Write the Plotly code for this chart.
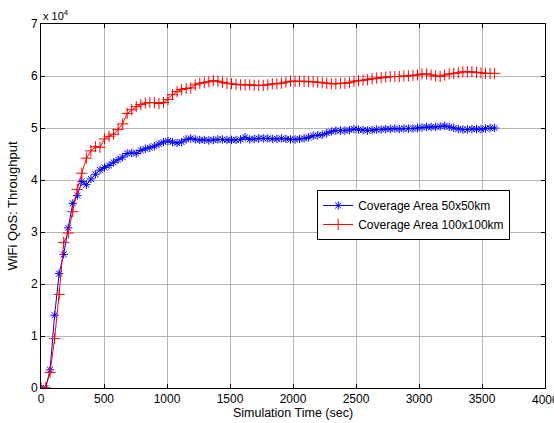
import plotly.graph_objects as go

# time axis (sec)
time_sec = [36 * i for i in range(101)]

# throughput in units of 10^4
blue_50 = [0, 0, 0.35, 1.4, 2.2, 2.57, 3.08, 3.55, 3.7, 3.97,
           3.91, 4.02, 4.11, 4.19, 4.24, 4.28, 4.34, 4.39, 4.44, 4.51,
           4.52, 4.51, 4.57, 4.60, 4.62, 4.65, 4.69, 4.73, 4.75, 4.73,
           4.71, 4.73, 4.78, 4.80, 4.78, 4.77, 4.77, 4.76, 4.77, 4.78,
           4.78, 4.77, 4.77, 4.77, 4.78, 4.82, 4.78, 4.79, 4.80, 4.80,
           4.80, 4.79, 4.79, 4.80, 4.79, 4.78, 4.78, 4.79, 4.80, 4.82,
           4.85, 4.86, 4.87, 4.90, 4.93, 4.95, 4.95, 4.95, 4.96, 4.98,
           4.97, 4.96, 4.95, 4.96, 4.97, 4.97, 4.98, 4.98, 4.99, 4.98,
           4.99, 4.99, 4.99, 5.00, 5.01, 5.02, 5.02, 5.02, 5.03, 5.04,
           5.02, 5.00, 4.98, 4.97, 4.97, 4.98, 4.98, 4.98, 4.99, 5.00,
           5.00]

red_100 = [0, 0, 0.3, 0.95, 1.8, 2.8, 2.98, 3.39, 3.82, 4.13,
           4.42, 4.56, 4.64, 4.63, 4.79, 4.84, 4.88, 4.97, 5.08, 5.28,
           5.35, 5.41, 5.45, 5.48, 5.49, 5.49, 5.47, 5.49, 5.55, 5.64,
           5.70, 5.74, 5.76, 5.77, 5.83, 5.86, 5.87, 5.89, 5.91, 5.90,
           5.88, 5.86, 5.85, 5.84, 5.83, 5.83, 5.83, 5.82, 5.82, 5.82,
           5.83, 5.85, 5.85, 5.86, 5.88, 5.90, 5.90, 5.90, 5.90, 5.89,
           5.89, 5.88, 5.87, 5.86, 5.85, 5.85, 5.86, 5.86, 5.87, 5.90,
           5.91, 5.92, 5.93, 5.95, 5.96, 5.97, 5.98, 5.99, 5.99, 5.99,
           6.00, 6.00, 6.01, 6.02, 6.04, 6.04, 6.02, 6.00, 5.99, 6.02,
           6.04, 6.05, 6.06, 6.08, 6.08, 6.08, 6.07, 6.06, 6.05, 6.05,
           6.05]

x_ticks = [0, 500, 1000, 1500, 2000, 2500, 3000, 3500, 4000]
y_ticks = [0, 1, 2, 3, 4, 5, 6, 7]

FAM = "Liberation Sans, Arial, sans-serif"
tick_font = dict(family=FAM, size=12, color="#000000")
title_font = dict(family=FAM, size=12.5, color="#000000")
legend_font = dict(family=FAM, size=12, color="#000000")

fig = go.Figure()
fig.add_trace(go.Scatter(
    x=time_sec, y=blue_50, mode="lines+markers",
    name="Coverage Area 50x50km",
    line=dict(color="#0000ff", width=1),
    marker=dict(symbol="asterisk-open", size=7, color="#0000ff",
                line=dict(color="#0000ff", width=1)),
))
fig.add_trace(go.Scatter(
    x=time_sec, y=red_100, mode="lines+markers",
    name="Coverage Area 100x100km",
    line=dict(color="#ff0000", width=1),
    marker=dict(symbol="cross-thin-open", size=8, color="#ff0000",
                line=dict(color="#ff0000", width=1)),
))

axis_common = dict(
    showgrid=True, gridcolor="#b4b4b4", gridwidth=1,
    showline=True, linecolor="#000000", linewidth=1, mirror="ticks",
    ticks="inside", ticklen=4, tickcolor="#000000",
    zeroline=False, tickfont=tick_font, automargin=False,
)

fig.update_xaxes(range=[0, 4000], tickvals=x_ticks,
                 title=dict(text="Simulation Time (sec)", font=title_font, standoff=0),
                 **axis_common)
fig.update_yaxes(range=[0, 7], tickvals=y_ticks,
                 title=dict(text="WiFi QoS: Throughput", font=dict(family=FAM, size=13, color="#000000"),
                            standoff=10),
                 **axis_common)

# the 4000 tick label sits on the figure edge (partially cut in the original)
fig.add_annotation(text="4000", xref="x", yref="paper", x=4000, y=0,
                   xanchor="center", yanchor="top", yshift=-3,
                   showarrow=False, font=tick_font)

fig.add_annotation(text="x 10<sup>4</sup>", xref="paper", yref="paper",
                   x=0, y=1, xanchor="left", yanchor="bottom",
                   showarrow=False, font=dict(family=FAM, size=11, color="#000000"))

fig.update_layout(
    width=554, height=423,
    margin=dict(l=41, r=9, t=24, b=35),
    paper_bgcolor="#ffffff", plot_bgcolor="#ffffff",
    font=tick_font,
    showlegend=True,
    legend=dict(x=0.548, y=0.544, xanchor="left", yanchor="top",
                bgcolor="#ffffff", bordercolor="#000000", borderwidth=1,
                font=legend_font, tracegroupgap=0, itemwidth=30),
)

fig.write_html("out.html",
               config={"displayModeBar": False},
               post_script="document.body.style.margin='0';document.body.style.overflow='hidden';")
